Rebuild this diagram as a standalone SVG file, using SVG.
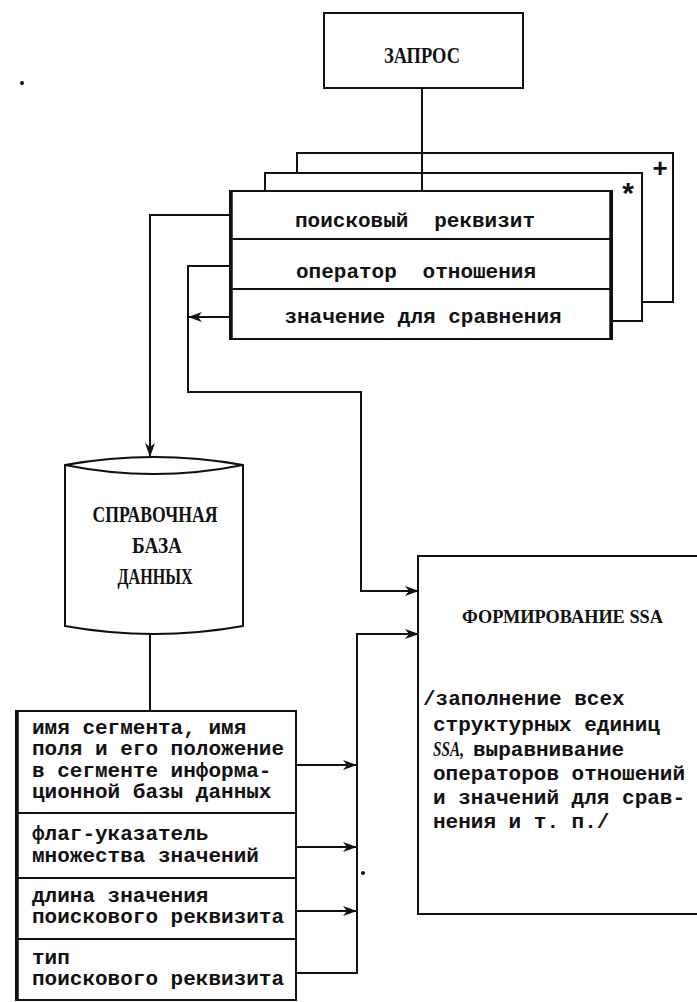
<svg xmlns="http://www.w3.org/2000/svg" width="697" height="1002" viewBox="0 0 697 1002">
<style>
.box{fill:#fff;stroke:#111;stroke-width:2}
.ln{fill:none;stroke:#111;stroke-width:2}
.thick{fill:none;stroke:#111;stroke-width:3.5}
.mono{font-family:"Liberation Mono","DejaVu Sans Mono",monospace;font-weight:bold;font-size:21px;fill:#111}
.serif{font-family:"Liberation Serif","DejaVu Serif",serif;font-weight:bold;fill:#111}
.sym{font-family:"Liberation Sans","DejaVu Sans",sans-serif;font-weight:bold;fill:#111}
</style>
<defs>
<marker id="arr" markerUnits="userSpaceOnUse" markerWidth="14" markerHeight="12" viewBox="0 0 14 12" refX="13" refY="6" orient="auto">
<path d="M0,1 L14,6 L0,11 L4,6 Z" fill="#111"/>
</marker>
</defs>
<rect width="697" height="1002" fill="#fff"/>

<g id="zapros">
<rect class="box" x="324" y="13" width="199" height="75"/>
<text class="serif" x="422" y="63" font-size="23" text-anchor="middle" textLength="76" lengthAdjust="spacingAndGlyphs">ЗАПРОС</text>
</g>

<g id="stack-back">
<rect class="box" x="297" y="153" width="376" height="149"/>
<text class="sym" x="660" y="177" font-size="26" text-anchor="middle">+</text>
</g>
<g id="stack-mid">
<rect class="box" x="265" y="173" width="377" height="148"/>
<text class="sym" x="628" y="203" font-size="30" text-anchor="middle">*</text>
</g>

<g id="ssa-criteria">
<rect class="box" x="230" y="191" width="382" height="148"/>
<line class="thick" x1="231" y1="191" x2="231" y2="339"/>
<line class="thick" x1="611" y1="191" x2="611" y2="339"/>
<line class="ln" x1="230" y1="239" x2="612" y2="239"/>
<line class="ln" x1="230" y1="289" x2="612" y2="289"/>
<text class="mono" x="295" y="227">поисковый</text>
<text class="mono" x="535" y="227" text-anchor="end">реквизит</text>
<text class="mono" x="296" y="278">оператор</text>
<text class="mono" x="536" y="278" text-anchor="end">отношения</text>
<text class="mono" x="423" y="323" text-anchor="middle">значение для сравнения</text>
</g>

<g id="database">
<path class="box" d="M65,465 Q154,449 243,465 L243,626 Q154,642 65,626 Z"/>
<path class="ln" d="M65,465 Q154,483 243,465"/>
<text class="serif" x="155" y="522" font-size="23" text-anchor="middle" textLength="125" lengthAdjust="spacingAndGlyphs">СПРАВОЧНАЯ</text>
<text class="serif" x="157" y="553" font-size="23" text-anchor="middle" textLength="50" lengthAdjust="spacingAndGlyphs">БАЗА</text>
<text class="serif" x="155" y="584" font-size="23" text-anchor="middle" textLength="75" lengthAdjust="spacingAndGlyphs">ДАННЫХ</text>
</g>

<g id="field-table">
<rect class="box" x="16" y="711" width="280" height="289"/>
<line class="thick" x1="17" y1="711" x2="17" y2="1000"/>
<line class="ln" x1="16" y1="813" x2="296" y2="813"/>
<line class="ln" x1="16" y1="878" x2="296" y2="878"/>
<line class="ln" x1="16" y1="939" x2="296" y2="939"/>
<text class="mono" x="32" y="734">имя сегмента, имя</text>
<text class="mono" x="32" y="755">поля и его положение</text>
<text class="mono" x="32" y="777">в сегменте информа-</text>
<text class="mono" x="32" y="798">ционной базы данных</text>
<text class="mono" x="32" y="840">флаг-указатель</text>
<text class="mono" x="32" y="862">множества значений</text>
<text class="mono" x="32" y="902">длина значения</text>
<text class="mono" x="32" y="923">поискового реквизита</text>
<text class="mono" x="32" y="964">тип</text>
<text class="mono" x="32" y="985">поискового реквизита</text>
</g>

<g id="ssa-forming">
<path class="ln" d="M697,556 H418 V914 H697"/>
<text class="serif" x="462" y="623" font-size="19" textLength="201" lengthAdjust="spacingAndGlyphs">ФОРМИРОВАНИЕ SSA</text>
<text class="mono" x="423" y="705">/заполнение всех</text>
<text class="mono" x="433" y="731">структурных единиц</text>
<text class="serif" x="433" y="756" font-size="21" font-style="italic" textLength="31" lengthAdjust="spacingAndGlyphs">SSA,</text>
<text class="mono" x="473" y="756">выравнивание</text>
<text class="mono" x="433" y="780">операторов отношений</text>
<text class="mono" x="433" y="804">и значений для срав-</text>
<text class="mono" x="433" y="828">нения и т. п./</text>
</g>

<g id="connectors">
<path class="ln" d="M422,88 V191"/>
<path class="ln" d="M230,215 H150 V456" marker-end="url(#arr)"/>
<path class="ln" d="M230,266 H188 V392 H361 V591 H418" marker-end="url(#arr)"/>
<path class="ln" d="M230,317 H189" marker-end="url(#arr)"/>
<path class="ln" d="M150,634 V711"/>
<path class="ln" d="M296,765 H356" marker-end="url(#arr)"/>
<path class="ln" d="M296,847 H356" marker-end="url(#arr)"/>
<path class="ln" d="M296,911 H356" marker-end="url(#arr)"/>
<path class="ln" d="M296,973 H357 V634 H418" marker-end="url(#arr)"/>
</g>

<circle cx="22" cy="83" r="2" fill="#111"/>
<circle cx="363" cy="873" r="2" fill="#111"/>
</svg>
